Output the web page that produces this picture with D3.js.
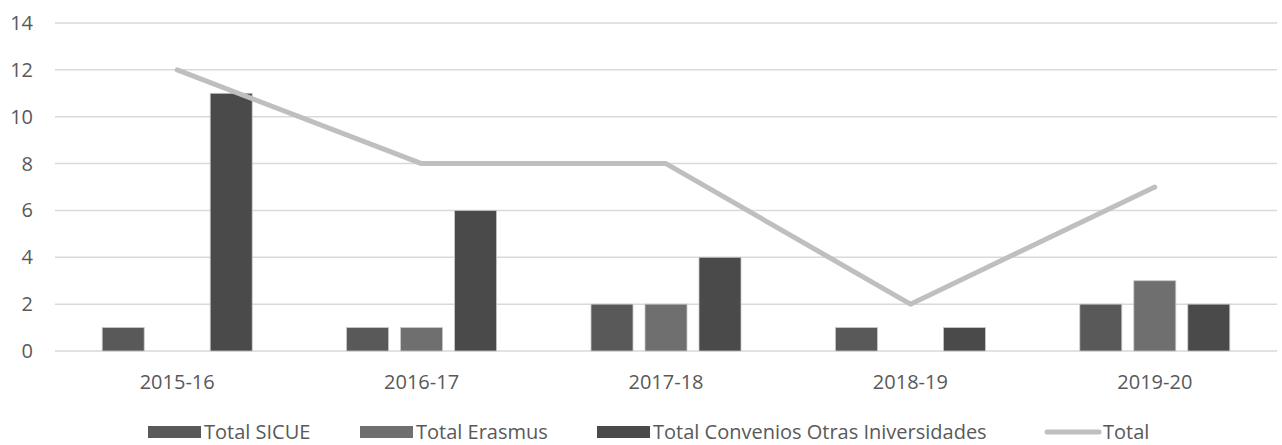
<!DOCTYPE html>
<html>
<head>
<meta charset="utf-8">
<script src="https://cdn.jsdelivr.net/npm/d3@7"></script>
<style>
  body { margin: 0; background: #fff; }
  text { font-family: "Open Sans", "Liberation Sans", sans-serif; fill: #595959; }
</style>
</head>
<body>
<div id="chart"></div>
<script>
var categories = ["2015-16", "2016-17", "2017-18", "2018-19", "2019-20"];
var seriesNames = ["Total SICUE", "Total Erasmus", "Total Convenios Otras Iniversidades"];
var sicue = [1, 1, 2, 1, 2];
var erasmus = [0, 1, 2, 0, 3];
var convenios = [11, 6, 4, 1, 2];
var total = [12, 8, 8, 2, 7];
var yTicks = [0, 2, 4, 6, 8, 10, 12, 14];

var width = 1282, height = 445;
var colors = ["#595959", "#6f6f6f", "#4a4a4a"];
var lineColor = "#bfbfbf";
var fontSize = "20px";

var svg = d3.select("#chart").append("svg")
    .attr("width", width)
    .attr("height", height);

var x = d3.scaleBand()
    .domain(categories)
    .range([55, 1277]);

var y = d3.scaleLinear()
    .domain([0, 14])
    .range([351, 23]);

// inner band: 3 bars of 42px with 12px gaps, centred in the category
var groupWidth = 150;
var xs = d3.scaleBand()
    .domain(d3.range(3))
    .range([(x.bandwidth() - groupWidth) / 2, (x.bandwidth() + groupWidth) / 2])
    .paddingInner(12 / 54);

// gridlines
svg.append("g").selectAll("line")
    .data(yTicks)
    .enter().append("line")
    .attr("x1", 55)
    .attr("x2", 1277)
    .attr("y1", function(d) { return y(d); })
    .attr("y2", function(d) { return y(d); })
    .attr("stroke", "#d9d9d9")
    .attr("stroke-width", 1.5);

// y tick labels
svg.append("g").selectAll("text")
    .data(yTicks)
    .enter().append("text")
    .attr("x", 33)
    .attr("y", function(d) { return y(d); })
    .attr("dy", "0.35em")
    .attr("text-anchor", "end")
    .style("font-size", fontSize)
    .text(function(d) { return d; });

// bars
var series = [sicue, erasmus, convenios];
var groups = svg.append("g").selectAll("g")
    .data(categories)
    .enter().append("g")
    .attr("transform", function(d) { return "translate(" + x(d) + ",0)"; });

groups.selectAll("rect")
    .data(function(d, i) {
        return series.map(function(s, k) { return { k: k, v: s[i] }; })
            .filter(function(e) { return e.v > 0; });
    })
    .enter().append("rect")
    .attr("x", function(d) { return xs(d.k); })
    .attr("width", xs.bandwidth())
    .attr("y", function(d) { return y(d.v); })
    .attr("height", function(d) { return y(0) - y(d.v); })
    .attr("fill", function(d) { return colors[d.k]; })
    .attr("stroke", "#c8c8c8")
    .attr("stroke-width", 0.8);

// total line
var line = d3.line()
    .x(function(d, i) { return x(categories[i]) + x.bandwidth() / 2; })
    .y(function(d) { return y(d); });

svg.append("path")
    .datum(total)
    .attr("d", line)
    .attr("fill", "none")
    .attr("stroke", lineColor)
    .attr("stroke-width", 5)
    .attr("stroke-linecap", "round")
    .attr("stroke-linejoin", "round");

// x category labels
svg.append("g").selectAll("text")
    .data(categories)
    .enter().append("text")
    .attr("x", function(d) { return x(d) + x.bandwidth() / 2; })
    .attr("y", 382)
    .attr("dy", "0.35em")
    .attr("text-anchor", "middle")
    .style("font-size", fontSize)
    .text(function(d) { return d; });

// legend
var legendX = [148, 360, 597];
var legendY = 432;
var legend = svg.append("g");
seriesNames.forEach(function(name, k) {
    legend.append("rect")
        .attr("x", legendX[k])
        .attr("y", legendY - 6)
        .attr("width", 53)
        .attr("height", 12)
        .attr("fill", colors[k]);
    legend.append("text")
        .attr("x", legendX[k] + 56)
        .attr("y", legendY)
        .attr("dy", "0.35em")
        .style("font-size", fontSize)
        .text(name);
});
legend.append("line")
    .attr("x1", 1047).attr("x2", 1099)
    .attr("y1", legendY).attr("y2", legendY)
    .attr("stroke", lineColor)
    .attr("stroke-width", 5)
    .attr("stroke-linecap", "round");
legend.append("text")
    .attr("x", 1103)
    .attr("y", legendY)
    .attr("dy", "0.35em")
    .style("font-size", fontSize)
    .text("Total");
</script>
</body>
</html>
